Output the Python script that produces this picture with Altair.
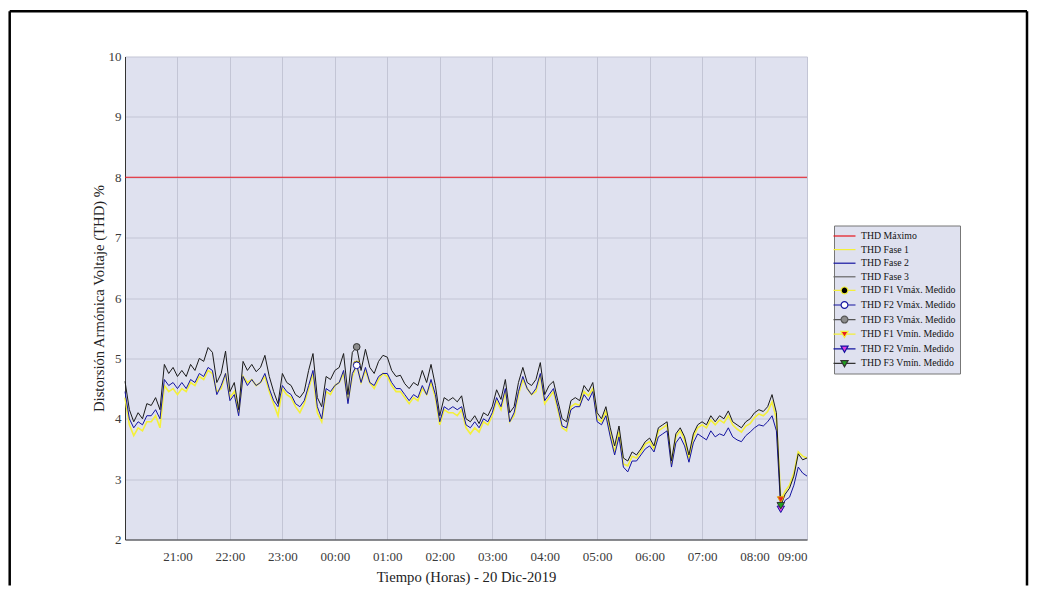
import altair as alt
import pandas as pd

# minutes after 19-Dic 20:00, one sample every 5 minutes up to 09:00
t_min = list(range(0, 781, 5))

fase3 = [
    4.62, 4.15, 3.95, 4.10, 4.00, 4.25, 4.22, 4.35, 4.15, 4.90, 4.75, 4.85,
    4.70, 4.80, 4.70, 4.90, 4.80, 5.00, 4.95, 5.18, 5.10, 4.60, 4.75, 5.12,
    4.45, 4.60, 4.15, 4.95, 4.80, 4.90, 4.78, 4.85, 5.05, 4.70, 4.45, 4.25,
    4.75, 4.60, 4.55, 4.40, 4.35, 4.45, 4.80, 5.08, 4.35, 4.20, 4.70, 4.65,
    4.80, 4.85, 5.08, 4.40, 5.10, 5.19, 4.80, 5.15, 4.85, 4.75, 4.95, 5.05,
    5.02, 4.80, 4.70, 4.72, 4.58, 4.50, 4.60, 4.55, 4.80, 4.60, 4.90, 4.55,
    4.05, 4.35, 4.30, 4.35, 4.28, 4.38, 4.00, 3.95, 4.05, 3.92, 4.10, 4.05,
    4.20, 4.48, 4.32, 4.65, 4.10, 4.20, 4.60, 4.85, 4.60, 4.55, 4.65, 4.93,
    4.40, 4.55, 4.62, 4.30, 4.00, 3.95, 4.30, 4.35, 4.30, 4.55, 4.45, 4.60,
    4.10, 4.00, 4.20, 3.85, 3.55, 3.88, 3.35, 3.30, 3.45, 3.40, 3.50, 3.62,
    3.68, 3.55, 3.85, 3.90, 3.95, 3.30, 3.75, 3.85, 3.70, 3.40, 3.75, 3.90,
    3.95, 3.90, 4.05, 3.95, 4.05, 4.00, 4.13, 3.95, 3.90, 3.85, 3.95, 4.00,
    4.10, 4.15, 4.12, 4.20, 4.40, 4.10, 2.56, 2.75, 2.85, 3.05, 3.42, 3.32, 3.35,
]

fase2 = [
    4.45, 4.00, 3.85, 3.95, 3.90, 4.05, 4.05, 4.15, 4.00, 4.65, 4.55, 4.60,
    4.50, 4.60, 4.50, 4.65, 4.60, 4.75, 4.70, 4.85, 4.80, 4.40, 4.55, 4.75,
    4.30, 4.40, 4.05, 4.70, 4.55, 4.65, 4.55, 4.60, 4.75, 4.50, 4.30, 4.20,
    4.55, 4.45, 4.40, 4.25, 4.20, 4.30, 4.55, 4.80, 4.20, 4.00, 4.50, 4.45,
    4.55, 4.60, 4.80, 4.25, 4.75, 4.885, 4.60, 4.85, 4.60, 4.55, 4.70, 4.75,
    4.75, 4.60, 4.50, 4.50, 4.40, 4.30, 4.40, 4.35, 4.55, 4.40, 4.65, 4.40,
    3.95, 4.20, 4.15, 4.20, 4.15, 4.20, 3.90, 3.85, 3.95, 3.85, 4.00, 3.95,
    4.10, 4.35, 4.20, 4.50, 3.95, 4.10, 4.45, 4.70, 4.50, 4.40, 4.50, 4.75,
    4.30, 4.40, 4.50, 4.20, 3.88, 3.85, 4.15, 4.20, 4.20, 4.40, 4.30, 4.45,
    3.95, 3.90, 4.05, 3.70, 3.40, 3.70, 3.20, 3.12, 3.30, 3.30, 3.40, 3.50,
    3.55, 3.45, 3.70, 3.75, 3.80, 3.20, 3.60, 3.70, 3.55, 3.28, 3.60, 3.75,
    3.70, 3.65, 3.80, 3.70, 3.75, 3.72, 3.85, 3.70, 3.65, 3.62, 3.72, 3.78,
    3.85, 3.90, 3.88, 3.95, 4.05, 3.80, 2.50, 2.65, 2.70, 2.90, 3.20, 3.10, 3.05,
]

fase1 = [
    4.35, 3.90, 3.72, 3.85, 3.80, 3.95, 3.95, 4.05, 3.85, 4.55, 4.45, 4.50,
    4.40, 4.50, 4.45, 4.60, 4.55, 4.70, 4.65, 4.80, 4.75, 4.45, 4.50, 4.75,
    4.35, 4.45, 4.10, 4.70, 4.60, 4.65, 4.55, 4.60, 4.70, 4.45, 4.25, 4.05,
    4.50, 4.40, 4.35, 4.20, 4.10, 4.25, 4.50, 4.75, 4.10, 3.95, 4.45, 4.40,
    4.55, 4.60, 4.75, 4.30, 4.70, 4.90, 4.60, 4.80, 4.60, 4.50, 4.65, 4.75,
    4.70, 4.55, 4.45, 4.45, 4.35, 4.25, 4.35, 4.30, 4.50, 4.40, 4.60, 4.35,
    3.90, 4.15, 4.10, 4.10, 4.05, 4.15, 3.85, 3.75, 3.85, 3.78, 3.95, 3.90,
    4.05, 4.30, 4.15, 4.45, 3.95, 4.05, 4.40, 4.65, 4.50, 4.40, 4.45, 4.72,
    4.25, 4.35, 4.45, 4.15, 3.85, 3.80, 4.20, 4.25, 4.22, 4.45, 4.38, 4.50,
    4.00, 3.95, 4.12, 3.75, 3.45, 3.78, 3.25, 3.22, 3.38, 3.35, 3.45, 3.58,
    3.62, 3.50, 3.80, 3.85, 3.90, 3.25, 3.70, 3.80, 3.65, 3.35, 3.70, 3.85,
    3.90, 3.85, 3.98, 3.90, 3.98, 3.93, 4.05, 3.90, 3.83, 3.78, 3.88, 3.92,
    4.02, 4.08, 4.05, 4.12, 4.28, 4.00, 2.66, 2.80, 2.90, 3.10, 3.45, 3.38, 3.35,
]

thd_max = 8.0

# measured extremes (F1, F2, F3)
max_t = [265, 265, 265]
max_v = [4.90, 4.885, 5.19]
min_t = [750, 750, 750]
min_v = [2.66, 2.50, 2.56]

hour_ticks = list(range(60, 781, 60))
y_ticks = list(range(2, 11))

legend_names = [
    "THD Máximo", "THD Fase 1", "THD Fase 2", "THD Fase 3",
    "THD F1 Vmáx. Medido", "THD F2 Vmáx. Medido", "THD F3 Vmáx. Medido",
    "THD F1 Vmín. Medido", "THD F2 Vmín. Medido", "THD F3 Vmín. Medido",
]

assert len(fase1) == len(fase2) == len(fase3) == len(t_min)

RED = "#e8141c"
YEL = "#f4f03a"
BLU = "#1414a0"
BLK = "#1a1a1a"
SERIF = "Liberation Serif"

LINE = "M-2,0H2"
CIRC = "M-2,0H-0.62M0.62,0H2M0.62,0A0.62,0.62,0,1,1,-0.62,0A0.62,0.62,0,1,1,0.62,0Z"
TRI = "M-2,0H-0.38M0.38,0H2M-0.65,-0.5H0.65L0,0.62Z"

leg_stroke = [RED, YEL, BLU, "#666666", YEL, BLU, "#555555", YEL, BLU, "#333333"]
leg_fill = ["transparent"] * 4 + ["#000000", "#ffffff", "#8c8c8c", "#e82020", "#e040e0", "#20a020"]
leg_shape = [LINE] * 4 + [CIRC] * 3 + [TRI] * 3

df1 = pd.DataFrame({"t": t_min, "v": fase1})
df2 = pd.DataFrame({"t": t_min, "v": fase2})
df3 = pd.DataFrame({"t": t_min, "v": fase3})
dfmax = pd.DataFrame({"v": [thd_max]})
dfleg = pd.DataFrame({"serie": legend_names, "t": [0] * 10, "v": [0.0] * 10})

X = alt.X(
    "t:Q",
    scale=alt.Scale(domain=[0, 780], nice=False, zero=False),
    axis=alt.Axis(
        values=hour_ticks,
        labelExpr="format((20 + datum.value / 60) % 24, '02d') + ':00'",
        ticks=False, labelPadding=11, titlePadding=6,
    ),
    title="Tiempo (Horas) - 20 Dic-2019",
)
Y = alt.Y(
    "v:Q",
    scale=alt.Scale(domain=[2, 10], nice=False, zero=False),
    axis=alt.Axis(values=y_ticks, format="d", ticks=False, labelPadding=4, titlePadding=2),
    title="Distorsión Armónica Voltaje (THD) %",
)

frame_df = pd.DataFrame({"k": [0]})
frame = alt.layer(
    alt.Chart(frame_df).mark_rule(color="black", strokeWidth=2.5).encode(
        x=alt.value(-115.3), x2=alt.value(902), y=alt.value(-45.3)),
    alt.Chart(frame_df).mark_rule(color="black", strokeWidth=2.5).encode(
        x=alt.value(-115.3), y=alt.value(-45.3), y2=alt.value(529)),
    alt.Chart(frame_df).mark_rule(color="black", strokeWidth=2.5).encode(
        x=alt.value(902), y=alt.value(-45.3), y2=alt.value(529)),
)

limit = alt.Chart(dfmax).mark_rule(color=RED, strokeWidth=1).encode(y=Y)
l1 = alt.Chart(df1).mark_line(color=YEL, strokeWidth=1.6).encode(x=X, y=Y)
l2 = alt.Chart(df2).mark_line(color=BLU, strokeWidth=1).encode(x=X, y=Y)
l3 = alt.Chart(df3).mark_line(color=BLK, strokeWidth=1).encode(x=X, y=Y)


def marker(t, v, shape, fill, stroke, size):
    d = pd.DataFrame({"t": [t], "v": [v]})
    return alt.Chart(d).mark_point(
        shape=shape, filled=True, fill=fill, stroke=stroke, strokeWidth=1,
        size=size, opacity=1,
    ).encode(x=X, y=Y)


marks = [
    marker(max_t[0], max_v[0], "circle", "#000000", "#d8c800", 45),
    marker(max_t[1], max_v[1], "circle", "#ffffff", BLU, 45),
    marker(max_t[2], max_v[2], "circle", "#8c8c8c", "#333333", 45),
    marker(min_t[0], min_v[0], "triangle-down", "#e82020", "#e0a000", 45),
    marker(min_t[1], min_v[1], "triangle-down", "#e040e0", BLU, 55),
    marker(min_t[2], min_v[2], "triangle-down", "#20a020", "#333333", 55),
]

leg = alt.Chart(dfleg).mark_point(clip=True, opacity=1, size=121, strokeWidth=1.2).encode(
    x=X, y=Y,
    stroke=alt.Stroke("serie:N", scale=alt.Scale(domain=legend_names, range=leg_stroke),
                      legend=alt.Legend(title=None)),
    fill=alt.Fill("serie:N", scale=alt.Scale(domain=legend_names, range=leg_fill),
                  legend=alt.Legend(title=None)),
    shape=alt.Shape("serie:N", scale=alt.Scale(domain=legend_names, range=leg_shape),
                    legend=alt.Legend(title=None)),
)

chart = alt.layer(frame, limit, l1, l2, l3, *marks, leg).properties(
    width=682, height=483,
    padding={"left": 0, "top": 1.5, "right": 0, "bottom": 0},
    background="white",
).configure_view(
    fill="#dfe1ef", stroke="transparent",
).configure_axis(
    labelFont=SERIF, labelFontSize=13, labelColor="#3a3a3a",
    titleFont=SERIF, titleFontSize=14.7, titleFontWeight="normal", titleColor="#222222",
    domainColor="#333333", domainWidth=1,
    gridColor="#c3c5d5", gridWidth=1, gridOpacity=1,
).configure_legend(
    orient="none", legendX=709, legendY=169,
    fillColor="#dfe1ef", strokeColor="#777777", padding=4,
    labelFont=SERIF, labelFontSize=9.8, labelColor="#111111",
    symbolSize=121, symbolStrokeWidth=1.2, labelOffset=10, rowPadding=1.6,
)

chart.save("out.html", embed_options={"renderer": "svg", "actions": False})
